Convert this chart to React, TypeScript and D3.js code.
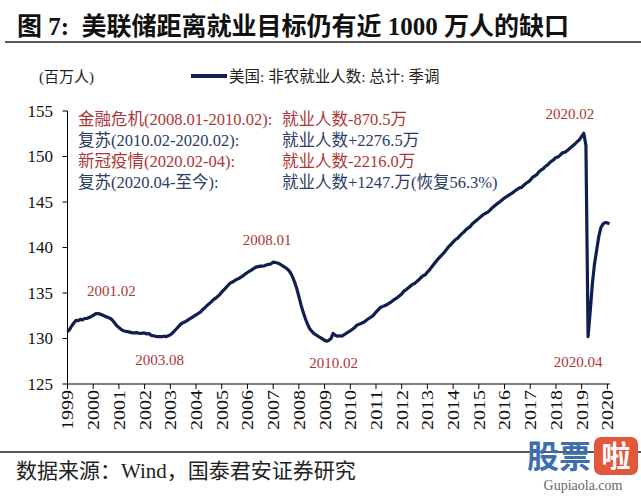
import React from "react";
import * as d3 from "d3";

// Monthly nonfarm payrolls (millions)
const y2000 = [130.75, 131.0, 131.4, 131.7, 132.0, 131.95, 132.1, 132.05, 132.2, 132.2, 132.3, 132.4];
const y2001 = [132.55, 132.7, 132.75, 132.7, 132.6, 132.5, 132.4, 132.3, 132.2, 132.0, 131.7, 131.4];
const y2002 = [131.2, 131.0, 130.85, 130.8, 130.75, 130.7, 130.65, 130.6, 130.65, 130.6, 130.55, 130.6];
const y2003 = [130.6, 130.5, 130.55, 130.35, 130.3, 130.25, 130.2, 130.2, 130.2, 130.25, 130.2, 130.3];
const y2004 = [130.4, 130.6, 130.85, 131.1, 131.35, 131.6, 131.75, 131.85, 132.0, 132.15, 132.3, 132.45];
const y2005 = [132.6, 132.75, 132.9, 133.15, 133.35, 133.6, 133.8, 134.0, 134.25, 134.4, 134.6, 134.8];
const y2006 = [135.1, 135.35, 135.6, 135.85, 136.1, 136.2, 136.35, 136.5, 136.6, 136.75, 136.9, 137.1];
const y2007 = [137.25, 137.4, 137.55, 137.7, 137.85, 137.9, 137.95, 137.95, 138.0, 138.1, 138.15, 138.2];
const y2008 = [138.4, 138.35, 138.3, 138.2, 138.05, 137.9, 137.75, 137.55, 137.25, 136.8, 136.2, 135.5];
const y2009 = [134.6, 133.7, 132.9, 132.2, 131.6, 131.1, 130.8, 130.55, 130.4, 130.25, 130.1, 129.95];
const y2010 = [129.8, 129.7, 129.8, 130.0, 130.55, 130.35, 130.25, 130.3, 130.25, 130.4, 130.55, 130.7];
const y2011 = [130.85, 131.0, 131.2, 131.45, 131.55, 131.65, 131.75, 131.9, 132.1, 132.25, 132.4, 132.6];
const y2012 = [132.9, 133.15, 133.4, 133.5, 133.6, 133.7, 133.85, 134.0, 134.2, 134.35, 134.5, 134.7];
const y2013 = [134.9, 135.2, 135.35, 135.55, 135.75, 135.95, 136.05, 136.25, 136.45, 136.7, 136.9, 137.0];
const y2014 = [137.3, 137.55, 137.85, 138.15, 138.45, 138.75, 139.0, 139.25, 139.5, 139.8, 140.1, 140.35];
const y2015 = [140.6, 140.85, 141.0, 141.25, 141.5, 141.7, 141.95, 142.15, 142.3, 142.6, 142.8, 143.0];
const y2016 = [143.2, 143.4, 143.6, 143.75, 143.85, 144.05, 144.3, 144.5, 144.7, 144.9, 145.05, 145.25];
const y2017 = [145.45, 145.6, 145.75, 145.9, 146.05, 146.25, 146.4, 146.55, 146.6, 146.85, 147.05, 147.2];
const y2018 = [147.4, 147.7, 147.85, 148.0, 148.3, 148.5, 148.65, 148.9, 149.05, 149.3, 149.5, 149.65];
const y2019 = [149.9, 149.95, 150.15, 150.4, 150.45, 150.6, 150.8, 151.0, 151.2, 151.4, 151.65, 151.85];
const y2020 = [152.2, 152.55, 151.2, 130.2, 133.0, 136.0, 138.2, 139.7, 141.2, 142.2, 142.6, 142.75];
const y2021 = [142.7, 142.6];

const series: number[] = [
  ...y2000, ...y2001, ...y2002, ...y2003, ...y2004, ...y2005, ...y2006, ...y2007,
  ...y2008, ...y2009, ...y2010, ...y2011, ...y2012, ...y2013, ...y2014, ...y2015,
  ...y2016, ...y2017, ...y2018, ...y2019, ...y2020, ...y2021,
];

const xTickLabels = ["1999", "2000", "2001", "2002", "2003", "2004", "2005", "2006", "2007", "2008", "2009",
  "2010", "2011", "2012", "2013", "2014", "2015", "2016", "2017", "2018", "2019", "2020"];
const yTicks = [125, 130, 135, 140, 145, 150, 155];

// point labels: [month index, text, value]
const pointLabels: [number, string, number][] = [
  [13, "2001.02", 132.7],
  [43, "2003.08", 130.2],
  [96, "2008.01", 138.4],
  [121, "2010.02", 129.7],
  [241, "2020.02", 152.55],
  [243, "2020.04", 130.2],
];

const notesLeft = ["金融危机(2008.01-2010.02):", "复苏(2010.02-2020.02):", "新冠疫情(2020.02-04):", "复苏(2020.04-至今):"];
const notesRight = ["就业人数-870.5万", "就业人数+2276.5万", "就业人数-2216.0万", "就业人数+1247.万(恢复56.3%)"];

const RED = "#ad3535";
const DARK = "#2a3b66";
const NAVY = "#0f1f4f";
const FONT = "'Liberation Serif', 'Noto Sans CJK SC', serif";

export default function App() {
  const x = d3.scaleLinear().domain([0, 253]).range([67.5, 609.5]);
  const y = d3.scaleLinear().domain([125, 155]).range([384, 111]);
  const line = d3.line<number>().x((_, i) => x(i)).y((d) => y(d));
  const tickIdx = xTickLabels.map((_, k) => k * 12);

  const labelOffsets: Record<string, number> = {
    "2001.02": -18, "2003.08": 28, "2008.01": -17, "2010.02": 27, "2020.02": -14, "2020.04": 30,
  };
  const labelDx: Record<string, number> = {
    "2001.02": 16, "2003.08": 0, "2008.01": -6, "2010.02": 7, "2020.02": -14, "2020.04": -10,
  };

  return (
    <svg width={641} height={496} style={{ position: "absolute", left: 0, top: 0, background: "#fff" }}
      fontFamily={FONT}>
      <rect width={641} height={496} fill="#fff" />
      <text x={17} y={35} fontSize={25} fontWeight="bold" fill="#111" style={{ whiteSpace: "pre" }}>
        图 7:  美联储距离就业目标仍有近 1000 万人的缺口
      </text>
      <line x1={5} x2={641} y1={42} y2={42} stroke="#222" strokeWidth={1.5} />

      <text x={39} y={82} fontSize={15} fill="#222">(百万人)</text>
      <line x1={191} x2={227} y1={76} y2={76} stroke={NAVY} strokeWidth={4} />
      <text x={229} y={82} fontSize={15.5} fill="#222" style={{ whiteSpace: "pre" }}>美国: 非农就业人数: 总计: 季调</text>

      {/* axes */}
      <line x1={67.5} x2={67.5} y1={y(155)} y2={y(125)} stroke="#000" strokeWidth={1} />
      <line x1={67.5} x2={610} y1={y(125)} y2={y(125)} stroke="#000" strokeWidth={1} />
      {yTicks.map((t) => (
        <g key={t}>
          <line x1={62.5} x2={67.5} y1={y(t)} y2={y(t)} stroke="#000" />
          <text x={53} y={y(t)} dy="0.35em" textAnchor="end" fontSize={17} fill="#111">{t}</text>
        </g>
      ))}
      {tickIdx.map((ti, k) => (
        <g key={k}>
          <line x1={x(ti)} x2={x(ti)} y1={y(125)} y2={y(125) + 5} stroke="#000" />
          <text transform={`translate(${x(ti)},${y(125) + 6}) rotate(-90)`} textAnchor="end" dy="0.35em"
            fontSize={17} textLength={40} lengthAdjust="spacingAndGlyphs" fill="#111">{xTickLabels[k]}</text>
        </g>
      ))}

      <path d={line(series) || ""} fill="none" stroke={NAVY} strokeWidth={3.2} strokeLinejoin="round" />

      {pointLabels.map(([i, t, v]) => (
        <text key={t} x={x(i) + labelDx[t]} y={y(v) + labelOffsets[t]} textAnchor="middle" fontSize={15} fill={RED}>{t}</text>
      ))}

      {notesLeft.map((t, k) => (
        <g key={k}>
          <text x={78} y={125 + k * 21} fontSize={16.5} fill={k % 2 === 0 ? RED : DARK}>{t}</text>
          <text x={282} y={125 + k * 21} fontSize={16.5} fill={k % 2 === 0 ? RED : DARK}>{notesRight[k]}</text>
        </g>
      ))}

      <line x1={0} x2={641} y1={452} y2={452} stroke="#222" strokeWidth={1.5} />
      <text x={16} y={478} fontSize={21} fill="#222" style={{ whiteSpace: "pre" }}>数据来源：Wind，国泰君安证券研究</text>

      {/* watermark */}
      <text x={527} y={468} fontSize={32} fontWeight="bold" fill="#3d6fae" fontFamily="'Noto Sans CJK SC'">股票</text>
      <rect x={594} y={437} width={44} height={38} rx={7} fill="#e2583b" />
      <text x={616} y={467} fontSize={29} fontWeight="bold" fill="#fff" textAnchor="middle" fontFamily="'Noto Sans CJK SC'">啦</text>
      <text x={583} y={490} fontSize={14} fill="#666" textAnchor="middle">Gupiaola.com</text>
    </svg>
  );
}
